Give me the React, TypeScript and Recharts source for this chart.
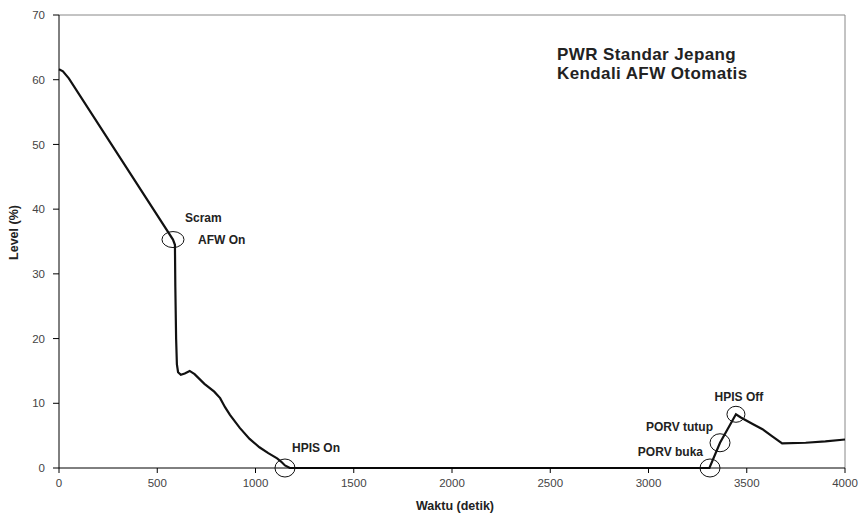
import React from "react"
import { LineChart, Line, XAxis, YAxis, ReferenceLine, ReferenceDot, Label } from "recharts"

// waktu (detik) and level (%)
const waktu = [
  0, 20, 50, 580, 590, 592, 596, 600, 606, 620, 640, 665, 690, 740, 790, 820, 845, 870, 920, 970, 1020,
  1065, 1110, 1130, 1150, 1175, 3310, 3364, 3445, 3470, 3530, 3580, 3630, 3680, 3800, 3900, 4000,
]
const level = [
  61.6, 61.3, 60.2, 35.3, 34.5, 28, 20, 16, 14.8, 14.4, 14.6, 15, 14.5, 13, 11.8, 10.8, 9.4, 8.2, 6.2, 4.5, 3.2,
  2.3, 1.5, 1.0, 0.4, 0, 0, 3.9, 8.3, 7.8, 6.8, 6.0, 4.9, 3.8, 3.9, 4.1, 4.4,
]

const xTicks = [0, 500, 1000, 1500, 2000, 2500, 3000, 3500, 4000]
const yTicks = [0, 10, 20, 30, 40, 50, 60, 70]

// event markers (circles) on the curve
const eventX = [580, 1150, 3313, 3364, 3445]
const eventY = [35.3, 0, 0, 3.9, 8.3]

const titleLines = ["PWR Standar Jepang", "Kendali AFW Otomatis"]

const data = waktu.map((t, i) => ({ t, level: level[i] }))

const FONT = "'Liberation Sans', Arial, sans-serif"

const Ellipse = (rx: number, ry: number) => (props: any) => (
  <ellipse cx={props.cx} cy={props.cy} rx={rx} ry={ry} fill="none" stroke="#111" strokeWidth={1} />
)

const note = (text: string, dx: number, dy: number, anchor: "start" | "middle" | "end" = "start") => (props: any) => {
  const { viewBox } = props
  const cx = viewBox.x + (viewBox.width || 0) / 2
  const cy = viewBox.y + (viewBox.height || 0) / 2
  return (
    <text
      x={cx + dx}
      y={cy + dy}
      textAnchor={anchor}
      dominantBaseline="central"
      fontFamily={FONT}
      fontWeight="bold"
      fontSize={12}
      fill="#222"
    >
      {text}
    </text>
  )
}

const ellipseSizes = [
  [11, 8],
  [10, 9],
  [10, 9],
  [10, 9],
  [9, 8],
]

export default function App() {
  return (
    <div style={{ position: "absolute", left: 0, top: 0, width: 861, height: 515, background: "#fff" }}>
      <LineChart width={861} height={515} data={data} margin={{ top: 15, right: 16, left: 0, bottom: 0 }}>
        <XAxis
          dataKey="t"
          type="number"
          domain={[0, 4000]}
          ticks={xTicks}
          interval={0}
          height={47}
          stroke="#000"
          tickSize={5}
          tickMargin={6}
          tick={{ fontSize: 11.5, fill: "#444", fontFamily: FONT }}
        >
          <Label
            content={(p: any) => (
              <text
                x={p.viewBox.x + p.viewBox.width / 2 + 3}
                y={p.viewBox.y + 42}
                textAnchor="middle"
                fontFamily={FONT}
                fontWeight="bold"
                fontSize={12.5}
                fill="#222"
              >
                Waktu (detik)
              </text>
            )}
          />
        </XAxis>
        <YAxis
          type="number"
          domain={[0, 70]}
          ticks={yTicks}
          interval={0}
          width={59}
          stroke="#000"
          tickSize={6}
          tickMargin={8}
          tick={{ fontSize: 11.5, fill: "#444", fontFamily: FONT }}
        >
          <Label
            content={(p: any) => {
              const x = 18
              const y = p.viewBox.y + p.viewBox.height / 2 - 9
              return (
                <text
                  x={x}
                  y={y}
                  transform={`rotate(-90 ${x} ${y})`}
                  textAnchor="middle"
                  fontFamily={FONT}
                  fontWeight="bold"
                  fontSize={12.5}
                  fill="#222"
                >
                  Level (%)
                </text>
              )
            }}
          />
        </YAxis>
        <ReferenceLine y={70} stroke="#888" strokeWidth={1} />
        <ReferenceLine x={4000} stroke="#888" strokeWidth={1} />
        <Line
          type="linear"
          dataKey="level"
          stroke="#111"
          strokeWidth={2.2}
          dot={false}
          activeDot={false}
          isAnimationActive={false}
        />
        {eventX.map((x, i) => (
          <ReferenceDot
            key={i}
            x={x}
            y={eventY[i]}
            r={10}
            shape={Ellipse(ellipseSizes[i][0], ellipseSizes[i][1])}
            ifOverflow="visible"
          />
        ))}
        <ReferenceDot x={eventX[0]} y={eventY[0]} r={0} ifOverflow="visible" shape={() => <g />}>
          <Label content={note("Scram", 12, -22)} />
        </ReferenceDot>
        <ReferenceDot x={eventX[0]} y={eventY[0]} r={0} ifOverflow="visible" shape={() => <g />}>
          <Label content={note("AFW On", 25, 0)} />
        </ReferenceDot>
        <ReferenceDot x={eventX[1]} y={eventY[1]} r={0} ifOverflow="visible" shape={() => <g />}>
          <Label content={note("HPIS On", 7, -20)} />
        </ReferenceDot>
        <ReferenceDot x={eventX[2]} y={eventY[2]} r={0} ifOverflow="visible" shape={() => <g />}>
          <Label content={note("PORV buka", -7, -16, "end")} />
        </ReferenceDot>
        <ReferenceDot x={eventX[3]} y={eventY[3]} r={0} ifOverflow="visible" shape={() => <g />}>
          <Label content={note("PORV tutup", -7, -16, "end")} />
        </ReferenceDot>
        <ReferenceDot x={eventX[4]} y={eventY[4]} r={0} ifOverflow="visible" shape={() => <g />}>
          <Label content={note("HPIS Off", 3, -17, "middle")} />
        </ReferenceDot>
      </LineChart>
      <div
        style={{
          position: "absolute",
          left: 557,
          top: 45,
          fontFamily: FONT,
          fontWeight: "bold",
          fontSize: 17,
          letterSpacing: 0.4,
          lineHeight: "19px",
          color: "#222",
          whiteSpace: "nowrap",
        }}
      >
        {titleLines.map((l) => (
          <div key={l}>{l}</div>
        ))}
      </div>
    </div>
  )
}
